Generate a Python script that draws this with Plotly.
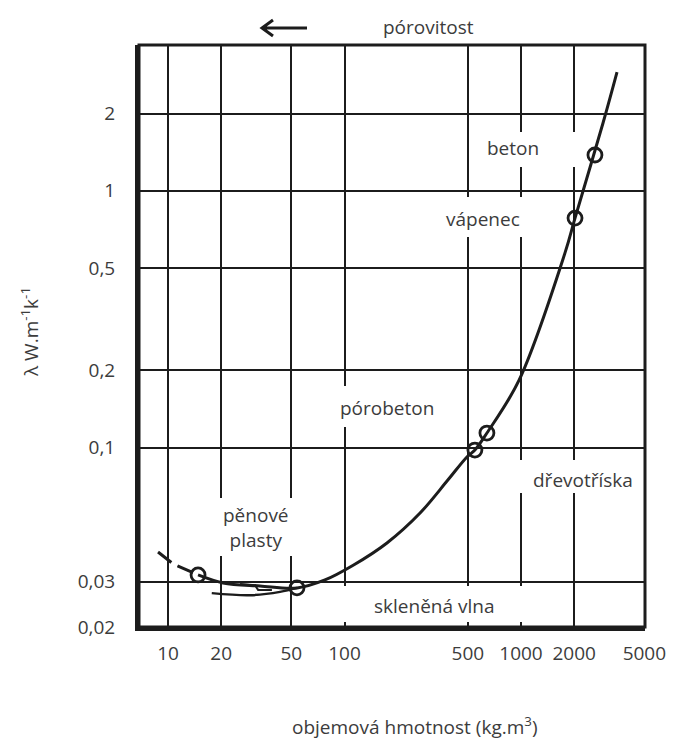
import plotly.graph_objects as go

# ---- data ----
curve_density = [14.8, 20.5, 33.2, 53.8, 77.5, 112, 174, 268, 385, 494, 548, 641,
                 975, 1775, 2023, 2915, 3499]
curve_lambda = [0.0319, 0.0297, 0.0289, 0.0284, 0.0305, 0.0348, 0.0425, 0.0556,
                0.0747, 0.0919, 0.0978, 0.1139, 0.183,
                0.573, 0.783, 1.837, 2.90]
dash_density = [8.78, 10.7, 14.8]
dash_lambda = [0.0392, 0.0352, 0.0319]
lower_density = [17.7, 29.2, 43.1, 53.8]
lower_lambda = [0.0271, 0.0266, 0.0274, 0.0284]
squiggle_density = [25.6, 31.1, 32.4, 38.8]
squiggle_lambda = [0.0294, 0.0291, 0.0279, 0.0279]
meas_density = [14.8, 53.8, 548, 641, 2023, 2624]
meas_lambda = [0.0319, 0.0284, 0.0978, 0.1139, 0.783, 1.379]

x_ticks = [10, 20, 50, 100, 500, 1000, 2000, 5000]
x_labels = ["10", "20", "50", "100", "500", "1000", "2000", "5000"]
y_ticks = [0.02, 0.03, 0.1, 0.2, 0.5, 1, 2]
y_labels = ["0,02", "0,03", "0,1", "0,2", "0,5", "1", "2"]

region_labels = ["beton", "vápenec", "pórobeton", "dřevotříska",
                 "pěnové<br>plasty", "skleněná vlna"]

# ---- layout geometry (pixels) ----
W, H = 678, 740
L, R, T, B = 139, 33, 45, 113
PW, PH = W - L - R, H - T - B


def px(x):
    return (x - L) / PW


def py(y):
    return (T + PH - y) / PH


INK = "#1c1c1c"
TXT = "#3c3c3c"
FONT = "Open Sans"

fig = go.Figure()
fig.add_trace(go.Scatter(x=curve_density, y=curve_lambda, mode="lines",
                         line=dict(color=INK, width=3, shape="spline", smoothing=1.0),
                         hoverinfo="skip"))
fig.add_trace(go.Scatter(x=dash_density, y=dash_lambda, mode="lines",
                         line=dict(color=INK, width=3, dash="17px,7px"),
                         hoverinfo="skip"))
fig.add_trace(go.Scatter(x=lower_density, y=lower_lambda, mode="lines",
                         line=dict(color=INK, width=2.5, shape="spline"),
                         hoverinfo="skip"))
fig.add_trace(go.Scatter(x=squiggle_density, y=squiggle_lambda, mode="lines",
                         line=dict(color=INK, width=2), hoverinfo="skip"))
fig.add_trace(go.Scatter(x=meas_density, y=meas_lambda, mode="markers",
                         marker=dict(symbol="circle-open", size=14, color=INK,
                                     line=dict(width=2.8, color=INK)),
                         hoverinfo="skip"))

# white boxes that break the grid behind the labels
gap_boxes = [
    (490, 132, 583, 167),   # beton
    (443, 197, 530, 237),   # vápenec
    (330, 386, 442, 427),   # pórobeton
    (513, 460, 640, 493),   # dřevotříska
    (213, 498, 298, 556),   # pěnové plasty
    (316, 586, 528, 622),   # skleněná vlna
]
shapes = []
for x0, y0, x1, y1 in gap_boxes:
    shapes.append(dict(type="rect", xref="paper", yref="paper",
                       x0=px(x0), x1=px(x1), y0=py(y1), y1=py(y0),
                       fillcolor="white", line=dict(width=0), layer="above"))
# frame (top/right)
shapes.append(dict(type="rect", xref="paper", yref="paper", x0=0, x1=1, y0=0, y1=1,
                   line=dict(color=INK, width=3), layer="above"))
# arrow for "pórovitost"
shapes.append(dict(type="path", xref="paper", yref="paper",
                   path=f"M {px(307)},{py(28)} L {px(262)},{py(28)} "
                        f"M {px(273)},{py(20)} L {px(262)},{py(28)} L {px(273)},{py(36)}",
                   line=dict(color=INK, width=3), layer="above"))

label_pos = [(513, 148), (483, 219), (387, 408), (583, 480), (256, 527), (434, 606)]
annotations = []
for txt, (x, y) in zip(region_labels, label_pos):
    annotations.append(dict(text=txt, xref="paper", yref="paper", x=px(x), y=py(y),
                            showarrow=False, xanchor="center", yanchor="middle",
                            font=dict(family=FONT, size=19, color=TXT)))
annotations.append(dict(text="pórovitost", xref="paper", yref="paper",
                        x=px(428), y=py(27), showarrow=False,
                        xanchor="center", yanchor="middle",
                        font=dict(family=FONT, size=19, color=TXT)))
annotations.append(dict(text="objemová hmotnost (kg.m<sup>3</sup>)", xref="paper",
                        yref="paper", x=px(415), y=py(726), showarrow=False,
                        xanchor="center", yanchor="middle",
                        font=dict(family=FONT, size=19, color=TXT)))
annotations.append(dict(text="λ W.m<sup>-1</sup>k<sup>-1</sup>", xref="paper",
                        yref="paper", x=px(30), y=py(332), showarrow=False,
                        textangle=-90, xanchor="center", yanchor="middle",
                        font=dict(family=FONT, size=19, color=TXT)))

fig.update_layout(
    width=W, height=H,
    margin=dict(l=L, r=R, t=T, b=B),
    paper_bgcolor="white", plot_bgcolor="white",
    showlegend=False,
    shapes=shapes,
    annotations=annotations,
    xaxis=dict(type="log", range=[0.8357, 3.7025],
               tickvals=x_ticks, ticktext=x_labels,
               showgrid=True, gridcolor=INK, gridwidth=2.2,
               showline=True, linecolor=INK, linewidth=4,
               ticks="", ticklabelstandoff=6, zeroline=False,
               tickfont=dict(family=FONT, size=19, color=TXT)),
    yaxis=dict(type="log", range=[-1.699, 0.568],
               tickvals=y_ticks, ticktext=y_labels,
               showgrid=True, gridcolor=INK, gridwidth=2.2,
               showline=True, linecolor=INK, linewidth=4,
               ticks="", ticklabelstandoff=16, zeroline=False,
               tickfont=dict(family=FONT, size=19, color=TXT)),
)

fig.write_html("out.html",
               config={"displayModeBar": False},
               post_script="document.body.style.margin='0px';"
                           "document.body.style.overflow='hidden';")
